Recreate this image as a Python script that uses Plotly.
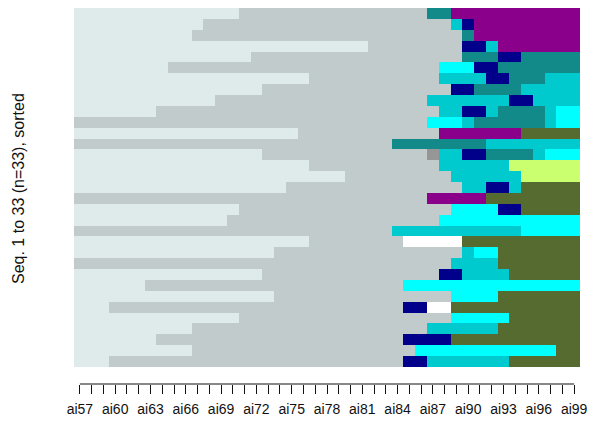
import plotly.graph_objects as go

# Positions (columns) and tick labels
positions = [f"ai{57 + k}" for k in range(43)]
tick_labels = [p if k % 3 == 0 else "" for k, p in enumerate(positions)]

# State alphabet and colours
states = ["A", "B", "T", "P", "N", "C", "D", "G", "L", "R", "W"]
state_colors = ["#DFEBEB", "#C2CBCB", "#128A8A", "#8B008B", "#00008B",
                "#00FFFF", "#00CACE", "#556B2F", "#CAFF70", "#969696", "#FFFFFF"]

# Sequences (run-length encoded), listed top row first (seq 33 ... seq 1)
sequences = [
    "A14 B16 T2 P11",
    "A11 B21 D1 N1 P9",
    "A10 B23 T1 P9",
    "A25 B8 N2 D1 P7",
    "A15 B18 T3 N2 T5",
    "A8 B23 C3 N2 T7",
    "A20 B11 D4 N2 T3 D3",
    "A16 B16 N2 T4 D5",
    "A12 B18 D7 N2 D4",
    "A7 B24 D2 N2 D1 T4 D1 C2",
    "B30 C3 D1 T6 D1 C2",
    "A19 B12 P7 G5",
    "B27 T8 D8",
    "A16 B14 R1 D2 N2 T4 D1 C3",
    "A20 B11 D6 L6",
    "A23 B9 D6 L5",
    "A18 B15 D2 N2 D1 G5",
    "B30 P5 G8",
    "A14 B18 C4 N2 G5",
    "A13 B18 C12",
    "B27 D11 C5",
    "A20 B8 W5 G10",
    "A17 B16 D1 C2 G7",
    "B32 D4 G7",
    "A16 B15 N2 D4 G6",
    "A6 B22 C15",
    "A17 B15 C4 G7",
    "A3 B25 N2 W2 G11",
    "A14 B18 C5 G6",
    "A10 B20 D6 G7",
    "A7 B21 N4 G11",
    "A10 B19 C12 G2",
    "A3 B25 N2 D7 G6",
]

n = len(sequences)
z = []
yvals = []
for i, s in enumerate(sequences):
    row = []
    for tok in s.split():
        row += [states.index(tok[0])] * int(tok[1:])
    z.append(row)
    yvals.append(n - i)

ns = len(states)
colorscale = []
for i, c in enumerate(state_colors):
    colorscale.append([i / ns, c])
    colorscale.append([(i + 1) / ns, c])

fig = go.Figure(go.Heatmap(
    z=z, x=list(range(len(positions))), y=yvals,
    colorscale=colorscale, zmin=-0.5, zmax=ns - 0.5,
    showscale=False, xgap=0, ygap=0, hoverinfo="skip",
))

fig.update_layout(
    width=591, height=433,
    margin=dict(l=74, r=11, t=8, b=49, autoexpand=False),
    paper_bgcolor="white", plot_bgcolor="white",
    font=dict(family="Liberation Sans, Arial, sans-serif", color="#111111"),
    xaxis=dict(
        range=[-0.5, len(positions) - 0.5], automargin=False,
        tickmode="array", tickvals=list(range(len(positions))), ticktext=tick_labels,
        ticks="outside", ticklen=9, tickwidth=1, tickcolor="#111111",
        showline=False, showgrid=False, zeroline=False,
        tickfont=dict(size=14, color="#111111"),
        ticklabelstandoff=3,
    ),
    yaxis=dict(
        range=[0.5 - 1.5625, n + 0.5], automargin=False,
        showticklabels=False, ticks="", showgrid=False, zeroline=False, showline=False,
    ),
    shapes=[dict(type="line", xref="x", yref="paper", x0=0, x1=len(positions) - 1,
                 y0=0, y1=0, line=dict(color="#111111", width=1))],
    annotations=[dict(
        text="Seq. 1 to 33 (n=33), sorted", textangle=-90,
        xref="paper", yref="paper", x=(18 - 74) / 506, y=(384 - 189) / 376,
        xanchor="center", yanchor="middle", showarrow=False,
        font=dict(size=16, color="#111111"),
    )],
)

fig.write_html("out.html",
               config={"displayModeBar": False, "staticPlot": True},
               post_script="document.body.style.margin='0';document.body.style.overflow='hidden';")
